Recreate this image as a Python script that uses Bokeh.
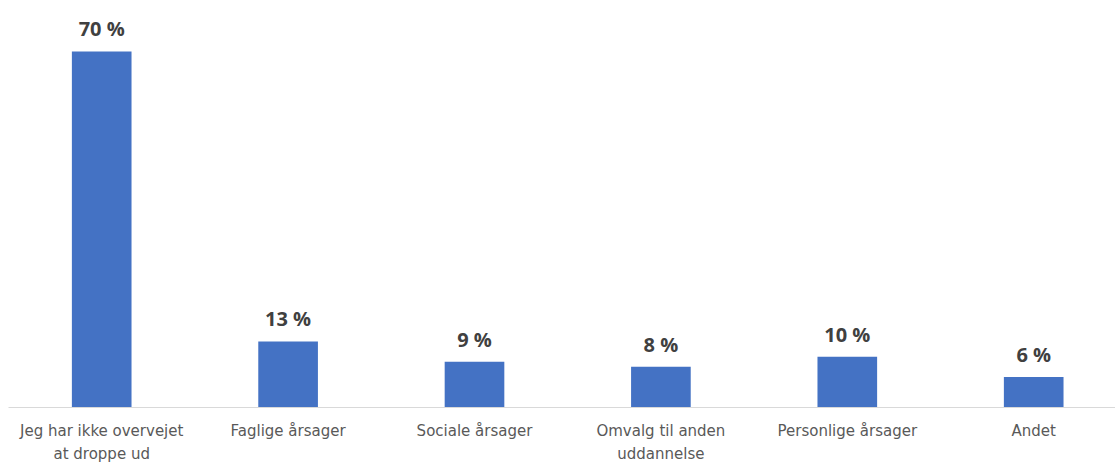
from bokeh.plotting import figure
from bokeh.models import ColumnDataSource, LabelSet, Range1d, FixedTicker
from bokeh.core.properties import value
from bokeh.embed import file_html
from bokeh.resources import INLINE

categories = ["Jeg har ikke overvejet\nat droppe ud", "Faglige årsager", "Sociale årsager",
              "Omvalg til anden\nuddannelse", "Personlige årsager", "Andet"]
values = [70, 13, 9, 8, 10, 6]
labels = ["70 %", "13 %", "9 %", "8 %", "10 %", "6 %"]

xs = [i + 0.5 for i in range(len(categories))]
src = ColumnDataSource(dict(x=xs, top=values, lab=labels))

p = figure(frame_width=1107, frame_height=399, output_backend="svg", toolbar_location=None,
           x_range=Range1d(0, 1107 / 186.4), y_range=Range1d(0, 78.45),
           min_border_left=8, min_border_right=0, min_border_top=8, min_border_bottom=0)
p.vbar(x="x", top="top", width=0.32, source=src, color="#4472C4", line_color=None)

labs = LabelSet(x="x", y="top", text="lab", source=src, y_offset=15,
                text_align="center", text_baseline="alphabetic",
                text_font=value("Open Sans"), text_font_style="bold", text_font_size="20px",
                text_color="#404040")
p.add_layout(labs)

p.yaxis.visible = False
p.xgrid.visible = False
p.ygrid.visible = False
p.outline_line_color = None
p.xaxis.ticker = FixedTicker(ticks=xs)
p.xaxis.major_label_overrides = {x: c for x, c in zip(xs, categories)}
p.xaxis.major_tick_line_color = None
p.xaxis.minor_tick_line_color = None
p.xaxis.axis_line_color = "#D9D9D9"
p.xaxis.axis_line_width = 1
p.xaxis.major_label_text_font = "DejaVu Sans"
p.xaxis.major_label_text_font_size = "15px"
p.xaxis.major_label_text_line_height = 1.3
p.xaxis.major_label_text_color = "#595959"
p.xaxis.major_label_standoff = 8

open("out.html", "w").write(file_html(p, INLINE))
